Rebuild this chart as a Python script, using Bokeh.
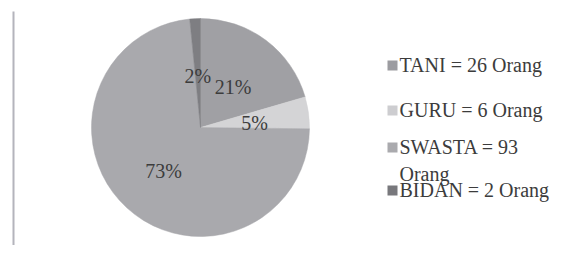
import math
from bokeh.plotting import figure
from bokeh.models import Range1d, ColumnDataSource
from bokeh.core.properties import value
from bokeh.embed import file_html
from bokeh.resources import INLINE

# data
categories = ["TANI", "GURU", "SWASTA", "BIDAN"]
counts = [26, 6, 93, 2]
pct_labels = ["21%", "5%", "73%", "2%"]
legend_labels = ["TANI = 26 Orang", "GURU = 6 Orang", "SWASTA = 93\nOrang", "BIDAN = 2 Orang"]
colors = ["#a0a0a4", "#d4d4d6", "#a9a9ad", "#7e7e82"]
legend_colors = ["#9c9ca0", "#cdcdd0", "#aaaaae", "#78787c"]

W, H = 566, 245
Htot = 261
p = figure(width=W, height=H, output_backend="svg", toolbar_location=None,
           x_range=Range1d(0, W), y_range=Range1d(Htot - H, Htot), min_border=0)
p.axis.visible = False
p.grid.visible = False
p.outline_line_color = None
p.background_fill_color = "white"

cx, cy, R = 200, Htot - 127, 109
total = sum(counts)
starts, ends, lx, ly = [], [], [], []
acc = 0.0
for c in counts:
    a0 = math.pi / 2 - 2 * math.pi * acc / total
    acc += c
    a1 = math.pi / 2 - 2 * math.pi * acc / total
    starts.append(a0)
    ends.append(a1)
    mid = (a0 + a1) / 2
    lx.append(cx + 0.5 * R * math.cos(mid))
    ly.append(cy + 0.5 * R * math.sin(mid) - 3)

src = ColumnDataSource(dict(start=starts, end=ends, color=colors, lx=lx, ly=ly, lab=pct_labels))
p.wedge(x=cx, y=cy, radius=R, start_angle="start", end_angle="end", direction="clock",
        fill_color="color", line_color="color", line_width=0.5, source=src)
p.text(x="lx", y="ly", text="lab", source=src, text_font=value("Liberation Serif"),
       text_font_size="20px", text_color="#3c3c3c", text_align="center", text_baseline="middle")

# vertical rule on the left
p.segment(x0=[13], y0=[0], x1=[13], y1=[Htot - 11], line_color="#b4b4bc", line_width=2)

# legend
row_y = [Htot - 65, Htot - 110, Htot - 147, Htot - 190]
sq_x = [392] * 4
tx = [399] * 4
ty = [y + 12 for y in row_y]
leg = ColumnDataSource(dict(sx=sq_x, sy=row_y, c=legend_colors, tx=tx, ty=ty, t=legend_labels))
p.scatter(x="sx", y="sy", marker="square", size=10, fill_color="c", line_color=None, source=leg)
p.text(x="tx", y="ty", text="t", source=leg, text_font=value("Liberation Serif"),
       text_font_size="20px", text_color="#3c3c3c", text_align="left", text_baseline="top",
       text_line_height=1.25)

open("out.html", "w").write(file_html(p, INLINE))
